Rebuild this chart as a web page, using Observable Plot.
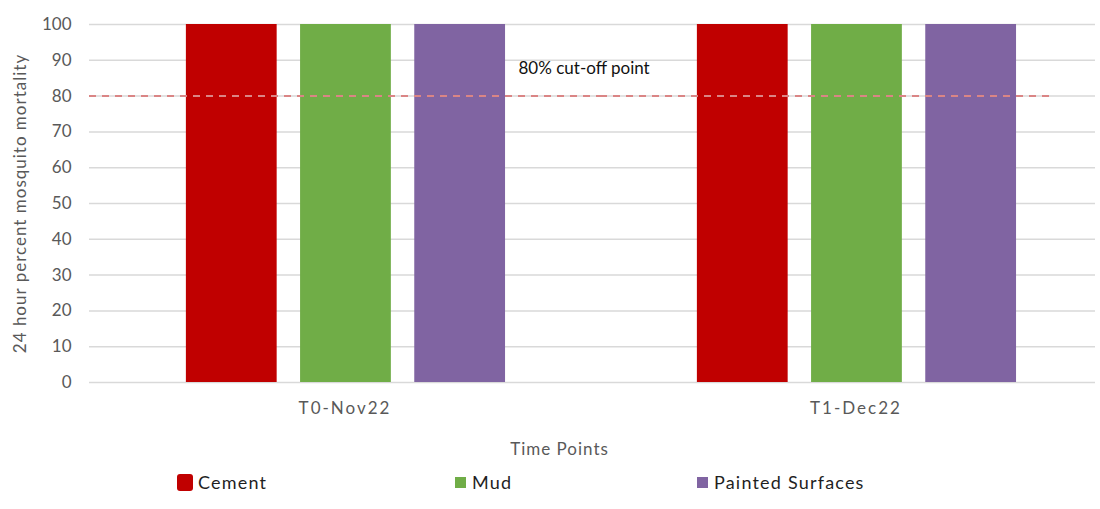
<!DOCTYPE html>
<html>
<head>
<meta charset="utf-8">
<script src="https://cdn.jsdelivr.net/npm/d3@7"></script>
<script src="https://cdn.jsdelivr.net/npm/@observablehq/plot@0.6"></script>
<style>
  body { margin: 0; background: #fff; font-family: Lato, sans-serif; }
  #chart { position: relative; width: 1100px; height: 509px; }
  #xtitle { position: absolute; top: 438px; left: 0; width: 1119px; text-align: center;
            font-size: 17px; letter-spacing: 1px; color: #595959; }
  #legend { position: absolute; top: 469px; left: 0; width: 1100px; height: 26px; }
  .item { position: absolute; top: 0; height: 26px; display: flex; align-items: center;
          font-size: 18px; letter-spacing: 1.2px; color: #1f1f1f; }
  .item:nth-child(1) { left: 177px; }
  .item:nth-child(2) { left: 455px; }
  .item:nth-child(3) { left: 697px; }
  .sw { display: inline-block; width: 11px; height: 11px; margin-right: 6px; }
  .item:nth-child(1) .sw { width: 16px; height: 17px; border-radius: 3px; margin-right: 5px; }
</style>
</head>
<body>
<div id="chart"></div>
<script>
// Time points (one group of bars each) and surface types (one bar per group)
const groups = ["T0-Nov22", "T1-Dec22"];
const surfaces = ["Cement", "Mud", "Painted Surfaces"];
const colors = ["#C00000", "#70AD47", "#8064A2"];

// 24-hour percent mosquito mortality per surface
const mortalityT0 = [100, 100, 100];
const mortalityT1 = [100, 100, 100];

const yTicks = [0, 10, 20, 30, 40, 50, 60, 70, 80, 90, 100];
const cutoff = 80;
const cutoffLabel = "80% cut-off point";
const yTitle = "24 hour percent mosquito mortality";
const xTitle = "Time Points";

const series = [mortalityT0, mortalityT1];
const rows = groups.flatMap((g, i) =>
  surfaces.map((s, j) => ({group: g, surface: s, value: series[i][j]})));

const gridStyle = {stroke: "#d9d9d9", strokeOpacity: 1, strokeWidth: 1.5};
const cutStyle = {stroke: "#da8585", strokeWidth: 2, strokeDasharray: "7,6"};

const chart = Plot.plot({
  width: 1100,
  height: 430,
  marginLeft: 90,
  marginRight: 5,
  marginTop: 24,
  marginBottom: 48,
  style: {fontFamily: "Lato, sans-serif", fontSize: "17px", color: "#595959", background: "transparent", overflow: "visible"},
  fx: {domain: groups, paddingInner: 0, paddingOuter: -0.016634, align: 0.0588, round: false},
  x: {domain: surfaces, paddingInner: 0.205, paddingOuter: 0.84, align: 0.505, round: false, axis: null},
  y: {domain: [0, 100]},
  color: {domain: surfaces, range: colors},
  marks: [
    Plot.gridY(yTicks, {fx: () => groups[0], ...gridStyle}),
    Plot.gridY(yTicks, {fx: () => groups[1], insetRight: 16, ...gridStyle}),
    Plot.barY(rows, {fx: "group", x: "surface", y: "value", fill: "surface"}),
    Plot.ruleY([cutoff], {fx: () => groups[0], ...cutStyle}),
    Plot.ruleY([cutoff], {fx: () => groups[1], insetRight: 61, ...cutStyle}),
    Plot.text([cutoffLabel], {
      fx: () => groups[0], y: () => cutoff, text: d => d,
      frameAnchor: "right", textAnchor: "start", dx: -82, dy: -28,
      fill: "#111", fontSize: 17
    }),
    Plot.axisY(yTicks, {
      tickSize: 0, tickPadding: 18, fontSize: 17,
      label: yTitle, labelAnchor: "center", labelOffset: 76, labelArrow: "none"
    }),
    Plot.axisFx({anchor: "bottom", tickSize: 0, tickPadding: 19, fontSize: 17, label: null})
  ]
});

// wider letter spacing for the axis title and category labels
d3.select(chart).selectAll("[aria-label='y-axis label'] text").style("letter-spacing", "1px");
d3.select(chart).selectAll("[aria-label='fx-axis tick label'] text").style("letter-spacing", "2px");

const root = document.getElementById("chart");
root.appendChild(chart);

const xt = document.createElement("div");
xt.id = "xtitle";
xt.textContent = xTitle;
root.appendChild(xt);

const legend = d3.select(root).append("div").attr("id", "legend");
const items = legend.selectAll(".item").data(surfaces).join("div").attr("class", "item");
items.append("span").attr("class", "sw").style("background", (d, i) => colors[i]);
items.append("span").text(d => d);
</script>
</body>
</html>
